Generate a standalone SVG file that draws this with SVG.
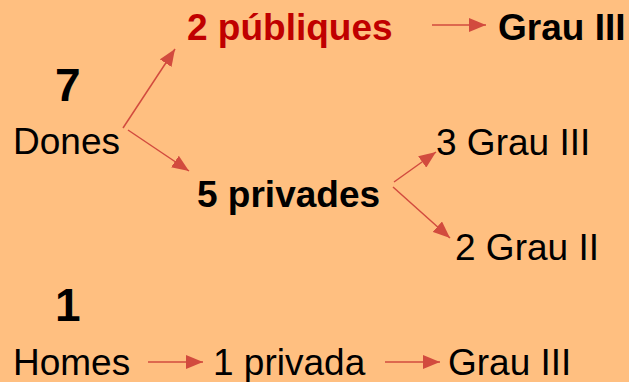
<svg xmlns="http://www.w3.org/2000/svg" width="629" height="382" viewBox="0 0 629 382">
<defs>
<style>
text{font-family:"Liberation Sans",Arial,sans-serif;font-size:37px;fill:#000}
.b{font-weight:bold}
.big{font-weight:bold;font-size:46px}
.red{fill:#C00000}
.c line{stroke:#D24B3E;stroke-width:1.5;fill:none}
</style>
<marker id="ah" markerUnits="userSpaceOnUse" markerWidth="18" markerHeight="14" viewBox="0 0 18 14" refX="17" refY="7" orient="auto">
<path d="M0,0 L17,7 L0,14 Z" fill="#D24B3E"/>
</marker>
</defs>
<rect width="629" height="382" fill="#FFBF80"/>
<g class="c">
<line x1="123" y1="128" x2="175" y2="49" marker-end="url(#ah)"/>
<line x1="128" y1="130" x2="189" y2="171" marker-end="url(#ah)"/>
<line x1="432" y1="25" x2="486" y2="25" marker-end="url(#ah)"/>
<line x1="394" y1="182" x2="436" y2="152" marker-end="url(#ah)"/>
<line x1="393" y1="187" x2="450" y2="238" marker-end="url(#ah)"/>
<line x1="148" y1="362" x2="203" y2="362" marker-end="url(#ah)"/>
<line x1="385" y1="362" x2="440" y2="362" marker-end="url(#ah)"/>
</g>
<g id="n7"><text class="big" x="55" y="101">7</text></g>
<g id="dones"><text x="13" y="154">Dones</text></g>
<g id="publiques"><text class="b red" x="187" y="40">2 públiques</text></g>
<g id="grau3a"><text class="b" x="498" y="40">Grau III</text></g>
<g id="privades"><text class="b" x="197" y="207">5 privades</text></g>
<g id="grau3b"><text x="436" y="155">3 Grau III</text></g>
<g id="grau2"><text x="455" y="260">2 Grau II</text></g>
<g id="n1"><text class="big" x="55" y="321">1</text></g>
<g id="homes"><text x="13" y="375">Homes</text></g>
<g id="privada"><text x="213" y="375">1 privada</text></g>
<g id="grau3c"><text x="448" y="375">Grau III</text></g>
</svg>
